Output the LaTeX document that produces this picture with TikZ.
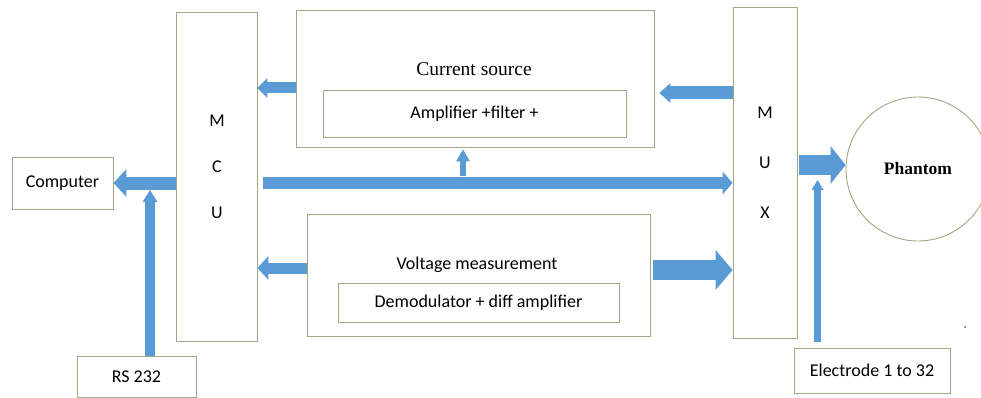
\documentclass[tikz,border=0pt]{standalone}
\usepackage{fontspec}
\setmainfont{Carlito}
\newfontfamily\serifcap{Liberation Serif}
\usetikzlibrary{arrows.meta, calc}
\definecolor{flowblue}{RGB}{91,155,213}
\definecolor{boxline}{RGB}{160,166,128}

\begin{document}
\begin{tikzpicture}[
    x=1pt, y=-1pt,
    box/.style={rectangle, draw=boxline, line width=0.9pt, inner sep=0pt, font=\fontsize{18}{21}\selectfont},
    tag/.style={inner sep=0pt, font=\fontsize{18}{21}\selectfont},
    flow/.style n args={3}{draw=flowblue, line width=#1, -{Triangle[width=#2, length=#3, line width=0pt]}}
]
\useasboundingbox (0,0) rectangle (981,398);

% Controller and multiplexer
\node[box, minimum width=81pt, minimum height=329pt] (MCU) at (216.5,176.5) {};
\node[tag, align=center, font=\fontsize{18}{46}\selectfont] (mcutxt) at (217,167) {M\\C\\U};
\node[box, minimum width=64pt, minimum height=331pt] (MUX) at (765,172.5) {};
\node[tag, align=center, font=\fontsize{18}{50}\selectfont] (muxtxt) at (765,163) {M\\U\\X};

% Current source block
\node[box, minimum width=358pt, minimum height=137pt] (CS) at (475,78.5) {};
\node[tag, font=\serifcap\fontsize{19.5}{22}\selectfont] (cslbl) at (474,69) {Current source};
\node[box, minimum width=303pt, minimum height=47pt] (Amp) at (474.5,113.5) {Amplifier +filter +};

% Voltage measurement block
\node[box, minimum width=343pt, minimum height=122pt] (VM) at (478.5,275) {};
\node[tag] (vmlbl) at (477,265) {Voltage measurement};
\node[box, minimum width=281pt, minimum height=39pt] (Demod) at (478.5,302.5) {Demodulator + diff amplifier};

% Outside blocks
\node[box, minimum width=101pt, minimum height=52pt] (Computer) at (62.5,183) {Computer};
\node[box, minimum width=119pt, minimum height=41pt] (RS) at (136.5,376.5) {RS 232};
\node[box, minimum width=156pt, minimum height=45pt] (Electrode) at (872,370.5) {Electrode 1 to 32};
\node[circle, draw=boxline, line width=0.9pt, minimum size=144pt, inner sep=0pt,
      font=\serifcap\bfseries\fontsize{17.5}{20}\selectfont] (Phantom) at (918,169) {Phantom};
\node[circle, fill=black!60, inner sep=0pt, minimum size=2pt] (dot) at (965,327) {};

% Arrows
\coordinate (csout) at ([yshift=-9.5pt]CS.west);
\draw[flow={11pt}{20pt}{10pt}] (csout) -- (csout -| MCU.east);

\coordinate (muxout) at ([yshift=-14.5pt]CS.east);
\draw[flow={13pt}{20pt}{11pt}, shorten >=5pt] (muxout -| MUX.west) -- (muxout);

\draw[flow={13pt}{28pt}{13pt}] (Computer.east -| MCU.west) -- (Computer.east);
\draw[flow={12pt}{23pt}{10pt}, shorten <=6pt] (Computer.east -| MCU.east) -- (Computer.east -| MUX.west);

\coordinate (csin) at ([xshift=-12pt]CS.south);
\draw[flow={6pt}{14pt}{12pt}, shorten >=2pt] ([yshift=-29pt]csin) -- (csin);

\coordinate (rsout) at ([xshift=13.5pt]RS.north);
\draw[flow={10pt}{15pt}{12pt}, shorten >=7pt] (rsout) -- (rsout |- Computer.east);

\coordinate (vmout) at ([yshift=7pt]VM.west);
\draw[flow={11pt}{24pt}{11pt}] (vmout) -- (vmout -| MCU.east);

\coordinate (vmin) at ([yshift=5pt]VM.east);
\draw[flow={20pt}{40pt}{17pt}, shorten <=3pt] (vmin) -- (vmin -| MUX.west);

\coordinate (phin) at ([yshift=4pt]Phantom.west);
\draw[flow={20pt}{38pt}{15pt}, shorten <=2pt] (phin -| MUX.east) -- (phin);

\coordinate (elout) at ([xshift=24pt]Electrode.north west);
\draw[flow={7pt}{12pt}{10pt}, shorten <=6pt, shorten >=15pt] (elout) -- (elout |- phin);

\end{tikzpicture}
\end{document}
